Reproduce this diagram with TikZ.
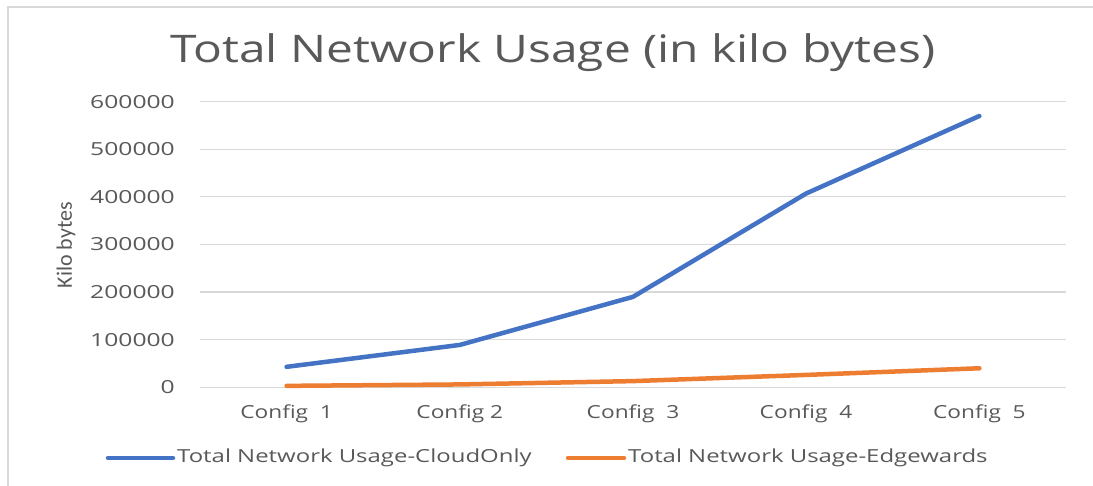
\documentclass[tikz,border=0pt]{standalone}
\usepackage{fontspec}
\setmainfont{Open Sans}
\newfontfamily\narrowfont{Carlito}
\newfontfamily\widefont{Open Sans}[FakeStretch=1.26]
\newfontfamily\tickfont{Open Sans}[FakeStretch=1.37]
\newfontfamily\legfont{Open Sans}[FakeStretch=1.33]
\definecolor{txtgray}{HTML}{595959}
\definecolor{gridgray}{HTML}{D9D9D9}
\definecolor{cloudblue}{HTML}{4472C4}
\definecolor{edgeorange}{HTML}{ED7D31}
\tikzset{
  lbl/.style={text=txtgray, inner sep=0pt},
  series/.style={line width=4.5pt, line cap=round, line join=round}
}
\begin{document}
\begin{tikzpicture}[x=1pt,y=-1pt]
\useasboundingbox (0,0) rectangle (1093,486);
\fill[white] (0,0) rectangle (1093,486);
\draw[gridgray,line width=1.5pt] (8,486) -- (8,7) -- (1093,7);
% title and axis label
\node[lbl, anchor=base] (title) at (553,63) {\widefont\fontsize{38}{40}\selectfont Total Network Usage (in kilo bytes)};
\node[lbl, rotate=90] (ylab) at (66,245) {\narrowfont\fontsize{22}{24}\selectfont Kilo bytes};
% value axis, in thousands
\begin{scope}[shift={(0,387.3)}, y=0.476pt]
\foreach \k in {0,...,6}{
    \draw[gridgray,line width=1.2pt] (200,\k*100) -- (1066,\k*100);
    \node[lbl, anchor=east] (tick\k) at (175,\k*100) {\tickfont\fontsize{18}{20}\selectfont\ifnum\k=0 0\else\k00000\fi};
}
\foreach \Point [count=\i] in {(286.6,43),(459.8,89),(633,190),(806,407),(979.4,570)}{
    \node[coordinate] (cloud\i) at \Point {};
}
\foreach \Point [count=\i] in {(286.6,3),(459.8,6),(633,13),(806,26),(979.4,40)}{
    \node[coordinate] (edge\i) at \Point {};
}
\draw[series,cloudblue] (cloud1) -- (cloud2) -- (cloud3) -- (cloud4) -- (cloud5);
\draw[series,edgeorange] (edge1) -- (edge2) -- (edge3) -- (edge4) -- (edge5);
\end{scope}
% categories
\node[lbl] (cat1) at (286.6,414) {\widefont\fontsize{18}{20}\selectfont Config\ \ 1};
\node[lbl] (cat2) at (459.8,414) {\widefont\fontsize{18}{20}\selectfont Config 2};
\node[lbl] (cat3) at (633,414) {\widefont\fontsize{18}{20}\selectfont Config\ \ 3};
\node[lbl] (cat4) at (806,414) {\widefont\fontsize{18}{20}\selectfont Config\ \ 4};
\node[lbl] (cat5) at (979.4,414) {\widefont\fontsize{18}{20}\selectfont Config\ \ 5};
% legend
\node[lbl, anchor=west] (legcloud) at (177,458) {\legfont\fontsize{18}{20}\selectfont Total Network Usage-CloudOnly};
\node[lbl, anchor=west] (legedge) at (628,458) {\legfont\fontsize{18}{20}\selectfont Total Network Usage-Edgewards};
\coordinate (keycloud) at (108,458);
\coordinate (keyedge) at (568,458);
\draw[series,cloudblue] (keycloud) -- ([xshift=-4pt]legcloud.west);
\draw[series,edgeorange] (keyedge) -- ([xshift=-4pt]legedge.west);
\end{tikzpicture}
\end{document}
